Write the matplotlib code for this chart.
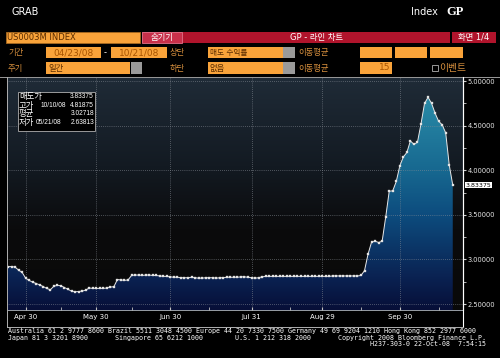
import numpy as np
import pandas as pd
import matplotlib
matplotlib.use('Agg')
import matplotlib.pyplot as plt
from matplotlib.patches import Rectangle
from matplotlib.lines import Line2D
from matplotlib.colors import LinearSegmentedColormap
import matplotlib.transforms as mtransforms

plt.rcParams['font.family'] = ['DejaVu Sans', 'Noto Sans CJK KR']

# London fixing days 04/23/08 - 10/21/08 (UK bank holidays dropped)
holidays = ['2008-05-05', '2008-05-26', '2008-08-25']
dates = pd.bdate_range('2008-04-23', '2008-10-21')
dates = dates[~dates.isin(pd.to_datetime(holidays))]

# US0003M fixings, month by month
apr = [2.920, 2.920, 2.915, 2.880, 2.855, 2.790]
may = [2.765, 2.745, 2.730, 2.715, 2.695, 2.675, 2.660, 2.700, 2.710, 2.705,
       2.685, 2.665, 2.645, 2.63813, 2.640, 2.645, 2.655, 2.680, 2.675, 2.675]
jun = [2.675, 2.675, 2.680, 2.690, 2.695, 2.775, 2.770, 2.765, 2.770, 2.820,
       2.825, 2.825, 2.820, 2.825, 2.825, 2.820, 2.820, 2.815, 2.810, 2.810, 2.805]
jul = [2.800, 2.800, 2.795, 2.795, 2.795, 2.800, 2.795, 2.790, 2.790, 2.795,
       2.795, 2.795, 2.790, 2.795, 2.795, 2.800, 2.800, 2.800, 2.800, 2.805,
       2.805, 2.800, 2.795]
aug = [2.790, 2.795, 2.805, 2.810, 2.810, 2.810, 2.810, 2.810, 2.810, 2.810,
       2.810, 2.810, 2.810, 2.810, 2.810, 2.810, 2.810, 2.810, 2.810, 2.810]
sep = [2.810, 2.810, 2.815, 2.815, 2.815, 2.815, 2.815, 2.815, 2.815, 2.815,
       2.820, 2.875, 3.060, 3.195, 3.205, 3.190, 3.205, 3.475, 3.765, 3.770,
       3.875, 4.050]
oct_ = [4.150, 4.200, 4.330, 4.290, 4.315, 4.520, 4.750, 4.81875, 4.750, 4.640,
        4.550, 4.510, 4.420, 4.060, 3.83375]
values = np.array(apr + may + jun + jul + aug + sep + oct_)

tick_dates = ['2008-04-30', '2008-05-30', '2008-06-30', '2008-07-31', '2008-08-29', '2008-09-30']
tick_labels = ['Apr 30', 'May 30', 'Jun 30', 'Jul 31', 'Aug 29', 'Sep 30']
minor_dates = ['2008-05-15', '2008-06-13', '2008-07-15', '2008-08-15', '2008-09-15', '2008-10-15']

# legend box (stats as shown by the terminal)
stat_names = ['매도가', '고가', '평균', '저가']
stat_dates = ['', '10/10/08', '', '05/21/08']
stat_values = ['3.83375', '4.81875', '3.02718', '2.63813']

W, H = 500, 358
fig = plt.figure(figsize=(W / 100, H / 100), dpi=100, facecolor='black')


def box(x0, y0, x1, y1, fc, ec='none', lw=0.6):
    fig.add_artist(Rectangle((x0 / W, 1 - y1 / H), (x1 - x0) / W, (y1 - y0) / H,
                             transform=fig.transFigure, facecolor=fc, edgecolor=ec, lw=lw))


def txt(x, y, s, **kw):
    kw.setdefault('va', 'center')
    fig.text(x / W, 1 - y / H, s, **kw)


def hline(x0, x1, y, c, lw=0.7):
    fig.add_artist(Line2D([x0 / W, x1 / W], [1 - y / H, 1 - y / H], color=c, lw=lw,
                          transform=fig.transFigure))


def vline(x, y0, y1, c, lw=0.7):
    fig.add_artist(Line2D([x / W, x / W], [1 - y0 / H, 1 - y1 / H], color=c, lw=lw,
                          transform=fig.transFigure))


# ---- header ----
ORANGE = '#f9a33a'
LABEL = '#d8903e'
DARK = '#5a2c00'
RED = '#b0142c'
txt(12, 12, 'GRAB', color='white', fontsize=7)
txt(438, 12, 'Index', color='white', fontsize=7, ha='right')
txt(446, 12, 'GP', color='white', fontsize=9, fontweight='bold', family='Liberation Serif')

box(6, 32, 140, 43, ORANGE, ec='#a86a20')
txt(7, 37.5, 'US0003M INDEX', color=DARK, fontsize=6)
box(142, 32, 450, 43, RED)
box(142, 32, 182, 43, '#c8304a', ec='#e07088')
txt(162, 37.5, '숨기기', color='white', fontsize=6, ha='center')
txt(317, 37.5, 'GP - 라인 차트', color='white', fontsize=6, ha='center')
box(452, 32, 496, 43, RED)
txt(474, 37.5, '화면 1/4', color='white', fontsize=6, ha='center')

# row 2
txt(8, 52.5, '기간', color=LABEL, fontsize=6)
box(46, 47, 101, 58, ORANGE)
txt(73.5, 52.5, '04/23/08', color='#a85400', fontsize=6.5, ha='center')
txt(105, 52.5, '-', color='white', fontsize=6, ha='center')
box(111, 47, 167, 58, ORANGE)
txt(139, 52.5, '10/21/08', color='#a85400', fontsize=6.5, ha='center')
txt(170, 52.5, '상단', color=LABEL, fontsize=6)
box(208, 47, 283, 58, ORANGE)
txt(210, 52.5, '매도 수익률', color=DARK, fontsize=5.5)
box(283, 47, 295, 58, '#9a9a9a')
txt(298, 52.5, '이동평균', color=LABEL, fontsize=6)
for a, b in [(360, 392), (395, 427), (430, 463)]:
    box(a, 47, b, 58, ORANGE)

# row 3
txt(8, 68, '주기', color=LABEL, fontsize=6)
box(46, 62, 130, 74, ORANGE)
txt(48, 68, '일간', color=DARK, fontsize=6)
box(131, 62, 142, 74, '#9a9a9a')
txt(170, 68, '하단', color=LABEL, fontsize=6)
box(208, 62, 283, 74, ORANGE)
txt(210, 68, '없음', color=DARK, fontsize=6)
box(283, 62, 295, 74, '#9a9a9a')
txt(298, 68, '이동평균', color=LABEL, fontsize=6)
box(360, 62, 392, 74, ORANGE)
txt(390, 68, '15', color='#a85400', fontsize=6.5, ha='right')
box(432, 65, 438, 71, 'black', ec='#b0b0b0', lw=0.6)
txt(439, 68, '이벤트', color=LABEL, fontsize=7)

# ---- chart ----
x = np.arange(len(values))
x0, x1 = -0.28, 128.9
y0, y1 = 2.433, 5.035
ax = fig.add_axes([7 / W, 1 - 310 / H, (463 - 7) / W, (310 - 78) / H])
ax.set_xlim(x0, x1)
ax.set_ylim(y0, y1)

bg = LinearSegmentedColormap.from_list('bg', [(0, '#090909'), (0.35, '#0b0b0c'),
                                              (0.62, '#131a22'), (1, '#1f2b37')])
ax.imshow(np.linspace(0, 1, 256).reshape(-1, 1), extent=[x0, x1, y0, y1], origin='lower',
          aspect='auto', cmap=bg, zorder=0)

fillmap = LinearSegmentedColormap.from_list('fill', [(0, '#070f38'), (0.141, '#0a2252'),
                                                     (0.41, '#0d4c7e'), (0.602, '#176890'),
                                                     (0.929, '#2a8ca8'), (1, '#2e92ae')])
poly = ax.fill_between(x, values, y0, facecolor='none', edgecolor='none')
img = ax.imshow(np.linspace(0, 1, 256).reshape(-1, 1), extent=[x0, x1, y0, y1], origin='lower',
                aspect='auto', cmap=fillmap, zorder=1)
img.set_clip_path(poly.get_paths()[0], transform=ax.transData)

ax.plot(x, values, color='#e8e8e8', lw=0.7, marker='s', ms=2.0, mfc='white',
        mec='#b8b8b8', mew=0.3, zorder=4)

pos = [dates.get_loc(pd.Timestamp(d)) for d in tick_dates]
mpos = [dates.get_indexer([pd.Timestamp(d)], method='nearest')[0] for d in minor_dates]
ax.set_xticks(pos)
ax.set_xticklabels(tick_labels)
ax.set_xticks(mpos, minor=True)
ax.set_yticks(np.arange(2.5, 5.01, 0.5))
ax.set_yticks(np.arange(2.75, 5.0, 0.5), minor=True)
ax.yaxis.set_major_formatter(matplotlib.ticker.FormatStrFormatter('%.5f'))
ax.yaxis.tick_right()

ax.set_axisbelow(False)
ax.grid(True, which='major', color='#8a9098', linestyle=(0, (1, 2)), lw=0.5)
ax.tick_params(axis='x', which='both', direction='in', length=2.5, color='#c0c0c0',
               labelcolor='white', labelsize=5, pad=3)
ax.tick_params(axis='y', which='both', direction='out', length=2.5, color='#d0d0d0',
               labelcolor='#e8e8e8', labelsize=4.8, pad=1)
for s in ['top', 'left']:
    ax.spines[s].set_visible(False)
ax.spines['right'].set_color('white')
ax.spines['right'].set_lw(0.8)
ax.spines['bottom'].set_color('#b0b8c0')
ax.spines['bottom'].set_lw(0.6)

# last value tag
tr = mtransforms.blended_transform_factory(ax.transAxes, ax.transData)
ax.text(1.006, values[-1], f'{values[-1]:.5f}', transform=tr, fontsize=4.5, color='black',
        va='center', ha='left', bbox=dict(facecolor='white', edgecolor='none', pad=0.6),
        clip_on=False)

# frame
hline(0, 500, 77, '#9a9a9a', lw=0.7)
vline(7, 77, 327, '#b0b0b0', lw=0.7)
vline(463, 77, 327, 'white', lw=0.8)
hline(7, 463, 327, '#b0b0b0', lw=0.7)

# stats box
box(18, 92, 95, 131, 'black', ec='#b0b0b0', lw=0.6)
narrow = dict(family=['Liberation Sans', 'Noto Sans CJK KR'], color='white', fontsize=4.8)
for i, (nm, dt, v) in enumerate(zip(stat_names, stat_dates, stat_values)):
    yy = 97 + i * 8.5
    txt(19, yy, nm, color='white', fontsize=6)
    if dt:
        txt(41 if i == 1 else 36, yy, dt, **narrow)
    txt(94, yy, v, ha='right', **narrow)

# ---- footer ----
mono = dict(family='DejaVu Sans Mono', color='white', fontsize=4.75)
txt(8, 331.5, 'Australia 61 2 9777 8600 Brazil 5511 3048 4500 Europe 44 20 7330 7500 '
    'Germany 49 69 9204 1210 Hong Kong 852 2977 6000', **mono)
txt(8, 338, 'Japan 81 3 3201 8900', **mono)
txt(115, 338, 'Singapore 65 6212 1000', **mono)
txt(235, 338, 'U.S. 1 212 318 2000', **mono)
txt(486, 338, 'Copyright 2008 Bloomberg Finance L.P.', ha='right', **mono)
txt(486, 344.5, 'H237-303-0 22-Oct-08  7:54:15', ha='right', **mono)

fig.savefig('out.png', dpi=100, facecolor='black')
